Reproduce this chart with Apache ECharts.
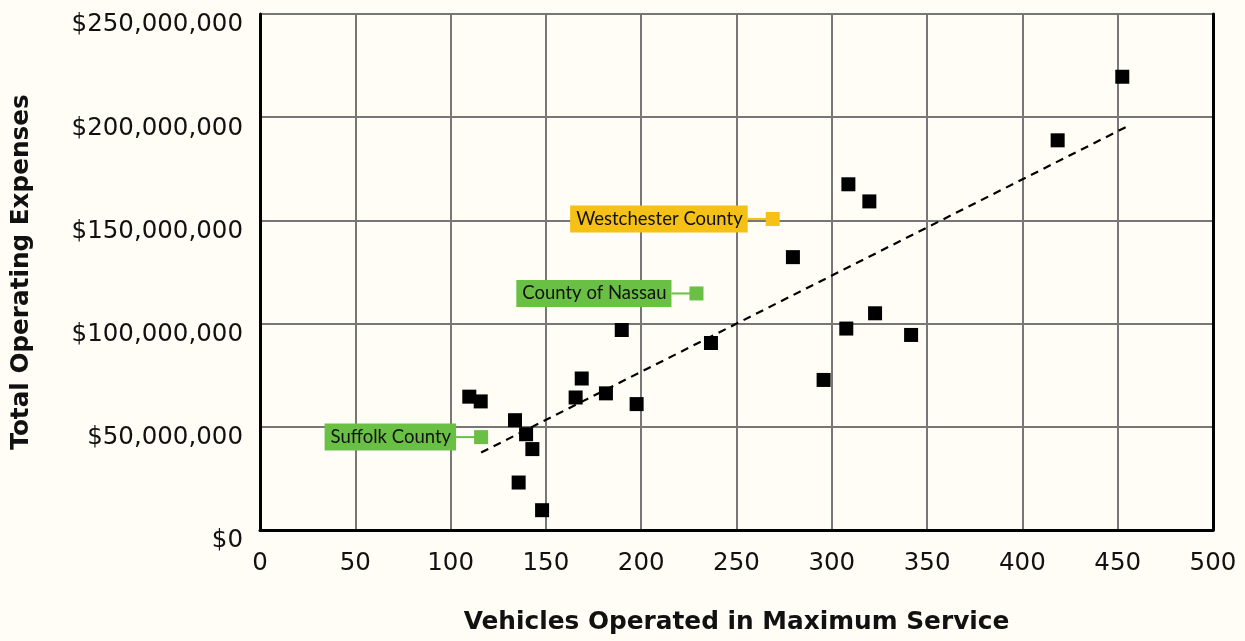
<!DOCTYPE html>
<html>
<head>
<meta charset="utf-8">
<script src="https://cdn.jsdelivr.net/npm/echarts@6/dist/echarts.min.js"></script>
<style>
  html, body { margin: 0; padding: 0; background: #fffdf6; }
  #chart { width: 1245px; height: 641px; }
</style>
</head>
<body>
<div id="chart"></div>
<script>
// Vehicles operated in maximum service (x) and total operating expenses (y, $)
const vehicles = [109.8, 115.8, 133.8, 139.6, 142.9, 135.7, 148.0, 165.6, 168.8, 181.5, 189.8,
                  197.6, 236.6, 279.6, 295.7, 307.6, 308.7, 319.7, 322.7, 341.6, 418.5, 452.4];
const expenses = [64.6e6, 62.3e6, 53.2e6, 46.4e6, 39.2e6, 23.0e6, 9.6e6, 64.2e6, 73.4e6, 66.2e6, 96.9e6,
                  61.0e6, 90.6e6, 132.2e6, 72.7e6, 97.6e6, 167.5e6, 159.2e6, 105.0e6, 94.5e6, 188.8e6, 219.6e6];

// Trend line endpoints
const trendX = [116, 454.5];
const trendY = [37.5e6, 195.3e6];

// Highlighted agencies
const highlightNames = ['Westchester County', 'County of Nassau', 'Suffolk County'];
const highlightX = [269, 229, 116];
const highlightY = [150.7e6, 114.6e6, 45.0e6];
const highlightColors = ['#f5c116', '#6abf45', '#6abf45'];

// Axis ticks
const xTicks = [0, 50, 100, 150, 200, 250, 300, 350, 400, 450, 500];
const yTicks = [0, 50e6, 100e6, 150e6, 200e6, 250e6];

const TICK_FONT = '"DejaVu Sans", sans-serif';
const TITLE_FONT = '"DejaVu Sans", sans-serif';
const LABEL_FONT = 'Lato, "Noto Sans", sans-serif';

const chart = echarts.init(document.getElementById('chart'));

const points = vehicles.map((v, i) => [v, expenses[i]]);
const trend = trendX.map((v, i) => [v, trendY[i]]);
const highlights = highlightNames.map((n, i) => [highlightX[i], highlightY[i], i]);

chart.setOption({
  backgroundColor: '#fffdf6',
  animation: false,
  grid: { left: 260, right: 32, top: 14, bottom: 111 },
  xAxis: {
    type: 'value',
    min: xTicks[0], max: xTicks[xTicks.length - 1], interval: 50,
    name: 'Vehicles Operated in Maximum Service',
    nameLocation: 'middle',
    nameGap: 80,
    nameTextStyle: { fontFamily: TITLE_FONT, fontSize: 24.8, fontWeight: 'bold', color: '#111' },
    axisLine: { show: true, onZero: false, lineStyle: { color: '#000', width: 3 } },
    axisTick: { show: false },
    axisLabel: { fontFamily: TICK_FONT, fontSize: 24.5, color: '#111', margin: 21 },
    splitLine: { show: true, lineStyle: { color: '#777', width: 2 } }
  },
  yAxis: [{
    type: 'value',
    min: yTicks[0], max: yTicks[yTicks.length - 1], interval: 50e6,
    name: 'Total Operating Expenses',
    nameLocation: 'middle',
    nameGap: 226,
    nameTextStyle: { fontFamily: TITLE_FONT, fontSize: 24.7, fontWeight: 'bold', color: '#111' },
    axisLine: { show: true, onZero: false, lineStyle: { color: '#000', width: 3 } },
    axisTick: { show: false },
    axisLabel: {
      fontFamily: TICK_FONT, fontSize: 24.5, color: '#111', margin: 17,
      verticalAlign: 'top', lineHeight: 22,
      formatter: v => '$' + v.toLocaleString('en-US')
    },
    splitLine: { show: true, lineStyle: { color: '#777', width: 2 } }
  }, {
    type: 'value', position: 'right',
    min: yTicks[0], max: yTicks[yTicks.length - 1], interval: 50e6,
    axisLine: { show: true, onZero: false, lineStyle: { color: '#000', width: 3 } },
    axisTick: { show: false }, axisLabel: { show: false }, splitLine: { show: false }
  }],
  series: [
    {
      type: 'line',
      data: trend,
      symbol: 'none',
      z: 2,
      lineStyle: { color: '#000', width: 2.2, type: [8, 6] }
    },
    {
      type: 'scatter',
      data: points,
      symbol: 'rect',
      symbolSize: 14,
      z: 3,
      itemStyle: { color: '#000', opacity: 1 }
    },
    {
      type: 'custom',
      data: highlights,
      z: 4,
      renderItem: function (params, api) {
        const p = api.coord([api.value(0), api.value(1)]);
        const idx = api.value(2);
        const color = highlightColors[idx];
        const name = highlightNames[idx];
        return {
          type: 'group',
          children: [
            { type: 'line', shape: { x1: p[0] - 25, y1: p[1], x2: p[0], y2: p[1] },
              style: { stroke: color, lineWidth: 2 } },
            { type: 'rect', shape: { x: p[0] - 7, y: p[1] - 7, width: 14, height: 14 },
              style: { fill: color } },
            { type: 'text', x: p[0] - 25, y: p[1],
              style: { text: name, align: 'right', verticalAlign: 'middle',
                       fill: '#111', font: '18.5px ' + LABEL_FONT,
                       backgroundColor: color, padding: [4, 5, 4, 6] } }
          ]
        };
      }
    }
  ]
});
</script>
</body>
</html>
